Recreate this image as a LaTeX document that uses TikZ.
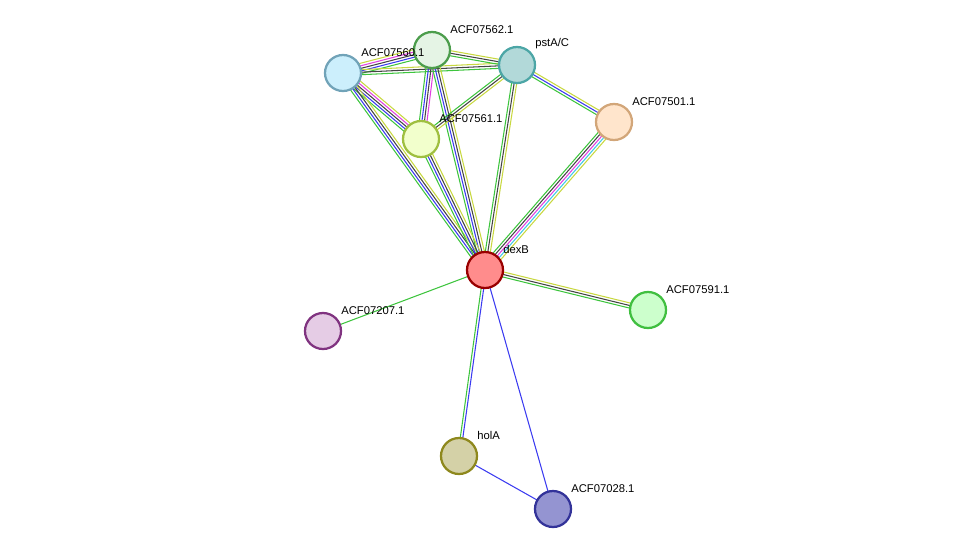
\documentclass[tikz,border=0pt]{standalone}
\usepackage{fontspec}
\setmainfont{Liberation Sans}
\usetikzlibrary{calc, backgrounds}

\definecolor{cGreen}{HTML}{3DC43D}
\definecolor{cBlue}{HTML}{3B3BF0}
\definecolor{cBlack}{HTML}{444444}
\definecolor{cMag}{HTML}{E040E0}
\definecolor{cCyan}{HTML}{40C8E8}
\definecolor{cYel}{HTML}{C8D840}

% draws parallel coloured lines between two nodes
\newcommand{\multiedge}[4]{%
  \foreach \col [count=\i] in {#4} {
    \pgfmathsetmacro{\off}{(\i-(#3+1)/2)*1.8}
    \draw[line width=0.75pt, color=\col]
      ($(#1)!\off pt!90:(#2)$) -- ($(#2)!\off pt!-90:(#1)$);
  }}

\begin{document}
\begin{tikzpicture}
    [
        x=0.025cm, y=-0.025cm,
        prot/.style={circle, line width=1.6pt, minimum size=36\pgflinewidth, inner sep=0pt, minimum size=0.9cm},
        lbl/.style={anchor=south west, inner sep=0pt, font=\fontsize{8}{9}\selectfont},
    ]
        \useasboundingbox (0,0) rectangle (975,555);
        \node[prot, draw=green!45!black!70, fill=green!55!black!10!white] (n562) at (432,50) {};
        \node[prot, draw=teal!70, fill=teal!30!white] (pst) at (517,65) {};
        \node[prot, draw=cyan!40!gray, fill=cyan!20!white] (n560) at (343,73) {};
        \node[prot, draw=lime!50!gray, fill=lime!20!white] (n561) at (421,139) {};
        \node[prot, draw=brown!70!white, fill=orange!20!white] (n501) at (614,122) {};
        \node[prot, draw=red!60!black, fill=red!45!white] (dex) at (485,270) {};
        \node[prot, draw=green!50!gray, fill=green!20!white] (n591) at (648,310) {};
        \node[prot, draw=violet!60!gray, fill=violet!20!white] (n207) at (323,331) {};
        \node[prot, draw=olive!80!gray, fill=yellow!35!gray!60!white] (hol) at (459,456) {};
        \node[prot, draw=blue!50!black!80, fill=blue!40!gray!60!white] (n028) at (553,509) {};

        \node[lbl] (l562) at (450,34) {ACF07562.1};
        \node[lbl] (lpst) at (535,49) {pstA/C};
        \node[lbl] (l560) at (361,57) {ACF07560.1};
        \node[lbl] (l561) at (439,123) {ACF07561.1};
        \node[lbl] (l501) at (632,106) {ACF07501.1};
        \node[lbl] (ldex) at (503,254) {dexB};
        \node[lbl] (l591) at (666,294) {ACF07591.1};
        \node[lbl] (l207) at (341,315) {ACF07207.1};
        \node[lbl] (lhol) at (477,440) {holA};
        \node[lbl] (l028) at (571,493) {ACF07028.1};

        \begin{scope}[on background layer]
        \multiedge{n560}{n562}{5}{cGreen,cBlue,cBlack,cMag,cYel}
        \multiedge{n560}{pst}{3}{cGreen,cBlack,cYel}
        \multiedge{n562}{pst}{3}{cGreen,cBlack,cYel}
        \multiedge{n560}{n561}{5}{cGreen,cBlue,cBlack,cMag,cYel}
        \multiedge{n562}{n561}{4}{cGreen,cBlue,cBlack,cMag}
        \multiedge{n560}{dex}{4}{cGreen,cBlue,cBlack,cYel}
        \multiedge{n562}{dex}{4}{cGreen,cBlue,cBlack,cYel}
        \multiedge{n561}{dex}{4}{cGreen,cBlue,cBlack,cYel}
        \multiedge{pst}{n561}{3}{cGreen,cBlack,cYel}
        \multiedge{pst}{dex}{3}{cGreen,cBlack,cYel}
        \multiedge{pst}{n501}{3}{cGreen,cBlue,cYel}
        \multiedge{n501}{dex}{5}{cGreen,cBlack,cMag,cCyan,cYel}
        \multiedge{dex}{n591}{3}{cGreen,cBlack,cYel}
        \multiedge{dex}{n207}{1}{cGreen}
        \multiedge{dex}{hol}{2}{cGreen,cBlue}
        \multiedge{dex}{n028}{1}{cBlue}
        \multiedge{hol}{n028}{1}{cBlue}
        \end{scope}
\end{tikzpicture}
\end{document}
